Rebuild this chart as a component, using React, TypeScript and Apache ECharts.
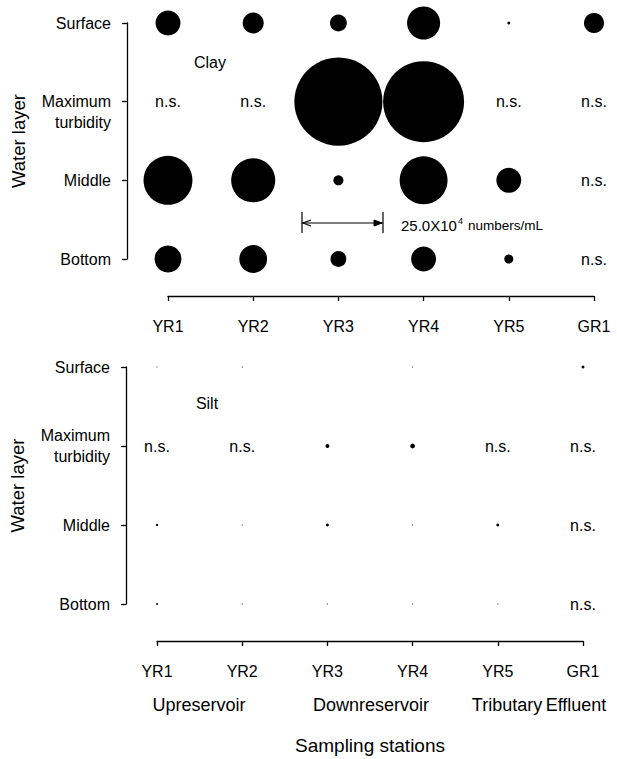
import React, { useEffect, useRef } from "react";
import * as echarts from "echarts";

const stations = ["YR1", "YR2", "YR3", "YR4", "YR5", "GR1"];
const layers = ["Surface", "Maximum turbidity", "Middle", "Bottom"];
const groupLabels = ["Upreservoir", "Downreservoir", "Tributary", "Effluent"];

// Abundance, x10^4 numbers/mL (null = n.s., not sampled)
const claySurface = [7.7, 6.5, 5.2, 10.2, 0.9, 6.2];
const clayMaxTurbidity = [null, null, 27.2, 25.0, null, null];
const clayMiddle = [15.1, 13.6, 3.1, 14.8, 7.7, null];
const clayBottom = [8.3, 8.6, 4.9, 7.7, 2.8, null];

const siltSurface = [0.3, 0.3, 0.0, 0.3, 0.0, 0.9];
const siltMaxTurbidity = [null, null, 1.2, 1.5, null, null];
const siltMiddle = [0.7, 0.3, 0.9, 0.3, 0.9, null];
const siltBottom = [0.6, 0.3, 0.3, 0.3, 0.3, null];

const scaleBarValue = 25.0;
const pxPerUnit = 81 / 25; // circle diameter per 10^4 numbers/mL

const FONT = "'Liberation Sans', Arial, sans-serif";

function buildPoints(rows: (number | null)[][]) {
  const pts: number[][] = [];
  const ns: number[][] = [];
  rows.forEach((row, li) => {
    row.forEach((v, si) => {
      if (v === null) ns.push([si, li]);
      else if (v > 0) pts.push([si, li, v]);
    });
  });
  return { pts, ns };
}

export default function App() {
  const ref = useRef<HTMLDivElement>(null);
  useEffect(() => {
    if (!ref.current) return;
    const chart = echarts.init(ref.current, null, { renderer: "svg" });
    const clay = buildPoints([claySurface, clayMaxTurbidity, clayMiddle, clayBottom]);
    const silt = buildPoints([siltSurface, siltMaxTurbidity, siltMiddle, siltBottom]);

    const axisLine = { show: true, lineStyle: { color: "#000", width: 1.3 } };
    const axisTick = { show: true, inside: false, length: 5, lineStyle: { color: "#000", width: 1.3 } };

    const makeY = (gridIndex: number, offset: number, firstLineAtTick: boolean) => ({
      type: "category",
      gridIndex,
      inverse: true,
      boundaryGap: false,
      offset,
      data: layers,
      axisLine,
      axisTick,
      splitLine: { show: false },
      axisLabel: {
        color: "#000",
        fontSize: 16,
        fontFamily: FONT,
        margin: 16,
        lineHeight: 21,
        formatter: (v: string) =>
          v.indexOf(" ") >= 0
            ? (firstLineAtTick ? " \n" : "") + v.replace(" ", "\n")
            : v,
      },
      name: "Water layer",
      nameLocation: "middle",
      nameGap: 99,
      nameTextStyle: { color: "#000", fontSize: 18.5, fontFamily: FONT },
    });

    const makeX = (gridIndex: number, withName: boolean) => ({
      type: "category",
      gridIndex,
      boundaryGap: false,
      offset: 37,
      data: stations,
      axisLine,
      axisTick,
      splitLine: { show: false },
      axisLabel: { color: "#000", fontSize: 16, fontFamily: FONT, margin: 22 },
      name: withName ? "Sampling stations" : "",
      nameLocation: "middle",
      nameGap: 95,
      nameTextStyle: { color: "#000", fontSize: 19, fontFamily: FONT },
    });

    const bubble = (idx: number, pts: number[][]) => ({
      type: "scatter",
      xAxisIndex: idx,
      yAxisIndex: idx,
      data: pts,
      symbol: "circle",
      symbolSize: (d: number[]) => d[2] * pxPerUnit,
      itemStyle: { color: "#000", opacity: 1 },
      silent: true,
    });
    const nsSeries = (idx: number, ns: number[][]) => ({
      type: "scatter",
      xAxisIndex: idx,
      yAxisIndex: idx,
      data: ns,
      symbolSize: 0.01,
      itemStyle: { color: "#000", opacity: 1 },
      label: {
        show: true,
        position: "inside",
        formatter: () => "n.s.",
        color: "#000",
        opacity: 1,
        textBorderWidth: 0,
        fontSize: 16,
        fontFamily: FONT,
      },
      silent: true,
    });

    const barLen = scaleBarValue * pxPerUnit;
    const bx = 302;
    const by = 223;
    const lineStyle = { stroke: "#000", lineWidth: 1.2 };

    const groupPos = [199, 371, 507, 576];

    chart.setOption({
      animation: false,
      backgroundColor: "#fff",
      grid: [
        { left: 168, top: 23, width: 426, height: 236 },
        { left: 157, top: 367, width: 426, height: 237 },
      ],
      xAxis: [makeX(0, false), makeX(1, true)],
      yAxis: [makeY(0, 41, true), makeY(1, 31, false)],
      series: [
        bubble(0, clay.pts),
        nsSeries(0, clay.ns),
        bubble(1, silt.pts),
        nsSeries(1, silt.ns),
      ],
      graphic: [
        {
          type: "text",
          x: 210,
          y: 62,
          style: { text: "Clay", fill: "#000", font: `16px ${FONT}`, align: "center", verticalAlign: "middle" },
        },
        {
          type: "text",
          x: 207,
          y: 403,
          style: { text: "Silt", fill: "#000", font: `16px ${FONT}`, align: "center", verticalAlign: "middle" },
        },
        { type: "line", shape: { x1: bx, y1: by, x2: bx + barLen, y2: by }, style: lineStyle },
        { type: "line", shape: { x1: bx, y1: by - 11, x2: bx, y2: by + 10 }, style: lineStyle },
        { type: "line", shape: { x1: bx + barLen, y1: by - 11, x2: bx + barLen, y2: by + 10 }, style: lineStyle },
        {
          type: "polyline",
          shape: { points: [[bx + 9, by - 3], [bx + 1, by], [bx + 9, by + 3]] },
          style: lineStyle,
        },
        {
          type: "polygon",
          shape: { points: [[bx + barLen - 9, by - 3], [bx + barLen - 1, by], [bx + barLen - 9, by + 3]] },
          style: { fill: "#000", stroke: "#000", lineWidth: 1 },
        },
        {
          type: "text",
          x: 401,
          y: by + 2,
          style: { text: "25.0X10", fill: "#000", font: `15px ${FONT}`, verticalAlign: "middle" },
        },
        {
          type: "text",
          x: 458,
          y: by - 2,
          style: { text: "4", fill: "#000", font: `9px ${FONT}`, verticalAlign: "middle" },
        },
        {
          type: "text",
          x: 468,
          y: by + 2,
          style: { text: "numbers/mL", fill: "#000", font: `13.5px ${FONT}`, verticalAlign: "middle" },
        },
        ...groupLabels.map((g, i) => ({
          type: "text",
          x: groupPos[i],
          y: 705,
          style: { text: g, fill: "#000", font: `18px ${FONT}`, align: "center", verticalAlign: "middle" },
        })),
      ],
    });
    return () => chart.dispose();
  }, []);
  return (
    <div
      ref={ref}
      style={{ position: "fixed", left: 0, top: 0, width: 617, height: 759, background: "#fff" }}
    />
  );
}
